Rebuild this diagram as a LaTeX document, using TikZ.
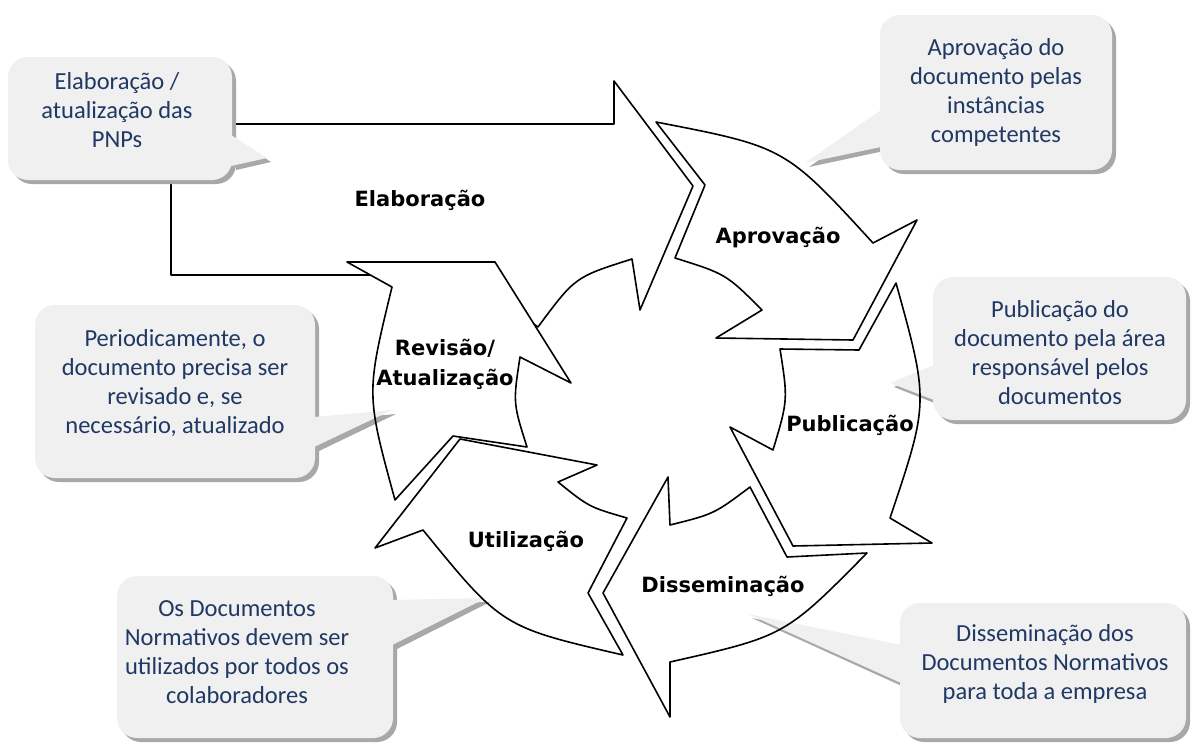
\documentclass[tikz,border=0pt]{standalone}
\usepackage{fontspec}
\usepackage{xcolor}
\usepackage{tikz}
\newfontfamily\notefont{Carlito}
\newfontfamily\stagefont{DejaVu Sans}
\definecolor{notetext}{RGB}{31,56,100}
\definecolor{notefill}{RGB}{240,240,240}
\definecolor{noteshadow}{RGB}{168,168,168}

% contours of the cycle arrows (x right, y down)
\newcommand{\aprovshape}{(656,122) .. controls (785,147) .. (873,243) -- (917,220) -- (853,340) -- (716,338) -- (762,310) .. controls (726,274) .. (675,258) -- (705,185) -- cycle}
\newcommand{\publshape}{(780,349) -- (859,350) -- (896,283) .. controls (929,402) .. (890,518) -- (932,543) -- (793,546) -- (730,427) -- (773,450) .. controls (788,400) .. (780,349) -- cycle}
\newcommand{\dissemshape}{(750,487) -- (787,557) -- (867,553) .. controls (785,636) .. (670,662) -- (670,717) -- (603,593) -- (668,477) -- (670,525) .. controls (714,514) .. (750,487) -- cycle}
\newcommand{\utilshape}{(627,518) -- (588,593) -- (623,655) .. controls (502,627) .. (423,530) -- (375,548) -- (460,439) -- (597,465) -- (558,482) .. controls (589,507) .. (627,518) -- cycle}
\newcommand{\revshape}{(395,500) .. controls (366,394) .. (392,287) -- (347,262) -- (495,262) -- (571,383) -- (520,357) .. controls (513,403) .. (527,447) -- (453,436) -- cycle}

\begin{document}
\begin{tikzpicture}[x=1pt,y=-1pt]
\tikzset{stage/.style={draw=black,line width=1.6pt,line join=round},
	bubble/.style={fill=notefill,rounded corners=20pt},
	bubbleshade/.style={fill=noteshadow,rounded corners=20pt,shift={(4,4)}},
	pointer/.style={fill=notefill},
	pointershade/.style={fill=noteshadow,shift={(4,4)}},
	note/.style={align=center,text=notetext,inner sep=0pt,
		font=\notefont\fontsize{24.5}{29}\selectfont},
	stagelabel/.style={align=center,inner sep=0pt,
		font=\stagefont\bfseries\fontsize{21}{30}\selectfont}}

\useasboundingbox (0,0) rectangle (1192,745);

% Elaboracao, partly hidden by the other shapes
\draw[stage,fill=white] (171,275) -- (171,124) -- (614,124) -- (614,81) -- (693,186) -- (640,310) -- (632,259) .. controls (575,277) .. (538,327) -- (500,300) -- (480,275) -- cycle;

\fill[white] \aprovshape;
\fill[white] \publshape;
\fill[white] \dissemshape;
\fill[white] \utilshape;
\fill[white] \revshape;

% callouts
\fill[bubbleshade] (8,57) rectangle (232,180);
\fill[pointershade] (232,135) -- (267,158) -- (232,166) -- cycle;
\fill[bubble] (8,57) rectangle (232,180);
\fill[pointer] (231,135) -- (267,158) -- (231,166) -- cycle;

\fill[bubbleshade] (880,15) rectangle (1112,170);
\fill[pointershade] (880,110) -- (805,163) -- (880,147) -- cycle;
\fill[bubble] (880,15) rectangle (1112,170);
\fill[pointer] (881,110) -- (805,163) -- (881,147) -- cycle;

\fill[bubbleshade] (35,305) rectangle (315,478);
\fill[pointershade] (315,417) -- (392,410) -- (315,447) -- cycle;
\fill[bubble] (35,305) rectangle (315,478);
\fill[pointer] (314,417) -- (392,410) -- (314,447) -- cycle;

\fill[bubbleshade] (933,277) rectangle (1186,420);
\fill[pointershade] (933,365) -- (890,383) -- (933,400) -- cycle;
\fill[bubble] (933,277) rectangle (1186,420);
\fill[pointer] (934,365) -- (890,383) -- (934,400) -- cycle;

\fill[bubbleshade] (117,576) rectangle (393,738);
\fill[pointershade] (393,600) -- (486,598) -- (393,645) -- cycle;
\fill[bubble] (117,576) rectangle (393,738);
\fill[pointer] (392,600) -- (486,598) -- (392,645) -- cycle;

\fill[bubbleshade] (900,603) rectangle (1186,738);
\fill[pointershade] (900,645) -- (748,614) -- (900,683) -- cycle;
\fill[bubble] (900,603) rectangle (1186,738);
\fill[pointer] (901,645) -- (748,614) -- (901,683) -- cycle;

% outlines on top of the pointers
\draw[stage] \aprovshape;
\draw[stage] \publshape;
\draw[stage] \dissemshape;
\draw[stage] \utilshape;
\draw[stage] \revshape;

\node[note] (nelab) at (117,110) {Elaboração /\\atualização das\\PNPs};
\node[note] (naprov) at (996,92) {Aprovação do\\documento pelas\\instâncias\\competentes};
\node[note] (nrevis) at (175,383) {Periodicamente, o\\documento precisa ser\\revisado e, se\\necessário, atualizado};
\node[note] (npubl) at (1060,353) {Publicação do\\documento pela área\\responsável pelos\\documentos};
\node[note] (nutil) at (237,652) {Os Documentos\\Normativos devem ser\\utilizados por todos os\\colaboradores};
\node[note] (ndissem) at (1045,664) {Disseminação dos\\Documentos Normativos\\para toda a empresa};

\node[stagelabel] (elab) at (420,200) {Elaboração};
\node[stagelabel] (aprov) at (778,238) {Aprovação};
\node[stagelabel] (publ) at (850,425) {Publicação};
\node[stagelabel] (dissem) at (723,586) {Disseminação};
\node[stagelabel] (util) at (526,541) {Utilização};
\node[stagelabel] (revis) at (445,364) {Revisão/\\Atualização};
\end{tikzpicture}
\end{document}
